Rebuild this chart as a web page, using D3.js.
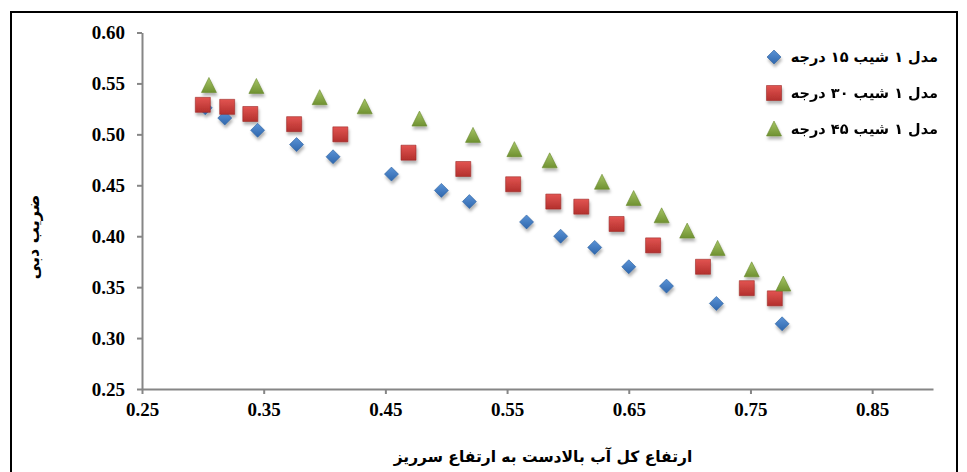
<!DOCTYPE html>
<html>
<head>
<meta charset="utf-8">
<script src="https://cdn.jsdelivr.net/npm/d3@7"></script>
<style>
  body { margin: 0; background: #fff; }
  svg { display: block; }
  .tick text { font-family: "Liberation Serif", "Times New Roman", serif; font-weight: bold; font-size: 19px; fill: #000; }
  .fa { font-family: "DejaVu Sans", "Noto Sans", sans-serif; font-weight: bold; fill: #000; }
</style>
</head>
<body>
<div id="chart"></div>
<script>
var width = 967,
    height = 472;

// series: x = ratio of total upstream head to weir height, y = discharge coefficient
var names = ["مدل ۱ شیب ۱۵ درجه", "مدل ۱ شیب ۳۰ درجه", "مدل ۱ شیب ۴۵ درجه"];

var x15 = [0.302, 0.318, 0.345, 0.377, 0.407, 0.455, 0.496, 0.519, 0.566, 0.594, 0.622, 0.650, 0.681, 0.722, 0.776];
var y15 = [0.526, 0.516, 0.504, 0.490, 0.478, 0.461, 0.445, 0.434, 0.414, 0.400, 0.389, 0.370, 0.351, 0.334, 0.314];

var x30 = [0.300, 0.320, 0.339, 0.375, 0.413, 0.469, 0.514, 0.555, 0.588, 0.611, 0.640, 0.670, 0.711, 0.747, 0.770];
var y30 = [0.529, 0.527, 0.520, 0.510, 0.500, 0.482, 0.466, 0.451, 0.434, 0.429, 0.412, 0.391, 0.370, 0.349, 0.339];

var x45 = [0.305, 0.344, 0.396, 0.433, 0.478, 0.522, 0.556, 0.585, 0.628, 0.654, 0.677, 0.698, 0.723, 0.751, 0.777];
var y45 = [0.548, 0.547, 0.536, 0.527, 0.515, 0.499, 0.485, 0.474, 0.453, 0.437, 0.420, 0.405, 0.388, 0.367, 0.353];

var xTicks = [0.25, 0.35, 0.45, 0.55, 0.65, 0.75, 0.85];
var yTicks = [0.25, 0.30, 0.35, 0.40, 0.45, 0.50, 0.55, 0.60];

var xTitle = "ارتفاع کل آب بالادست به ارتفاع سرریز";
var yTitle = "ضریب دبی";

var svg = d3.select("#chart").append("svg")
    .attr("width", width)
    .attr("height", height);

var defs = svg.append("defs");

var shadow = defs.append("filter").attr("id", "shadow")
    .attr("x", "-50%").attr("y", "-50%").attr("width", "200%").attr("height", "200%");
shadow.append("feDropShadow")
    .attr("dx", 1).attr("dy", 3).attr("stdDeviation", 1.5)
    .attr("flood-color", "#000").attr("flood-opacity", 0.3);

function grad(id, c1, c2) {
    var g = defs.append("linearGradient").attr("id", id)
        .attr("x1", "0").attr("y1", "0").attr("x2", "0").attr("y2", "1");
    g.append("stop").attr("offset", "0%").attr("stop-color", c1);
    g.append("stop").attr("offset", "100%").attr("stop-color", c2);
}
grad("gBlue", "#5b93d6", "#2f67ad");
grad("gRed", "#e25451", "#b3302d");
grad("gGreen", "#a6c566", "#6f9131");

// outer frame
svg.append("rect")
    .attr("x", 11).attr("y", 12)
    .attr("width", 946).attr("height", 470)
    .attr("fill", "none").attr("stroke", "#000").attr("stroke-width", 2);

var x = d3.scaleLinear().domain([0.25, 0.90]).range([142, 933]);
var y = d3.scaleLinear().domain([0.25, 0.60]).range([389, 32.5]);

var xAxis = svg.append("g")
    .attr("transform", "translate(0," + y(0.25) + ")")
    .call(d3.axisBottom(x).tickValues(xTicks).tickFormat(d3.format(".2f")).tickSize(5).tickSizeOuter(0).tickPadding(9));

var yAxis = svg.append("g")
    .attr("transform", "translate(" + x(0.25) + ",0)")
    .call(d3.axisLeft(y).tickValues(yTicks).tickFormat(d3.format(".2f")).tickSize(5).tickSizeOuter(0).tickPadding(12));

svg.selectAll(".domain, .tick line")
    .attr("stroke", "#868686")
    .attr("stroke-width", 2);

// marker shapes
var diamond = "M0,-7L7,0L0,7L-7,0Z";
var square = "M-7.5,-7.5H7.5V7.5H-7.5Z";
var triangle = "M0,-8L7.5,7H-7.5Z";

var series = [
    { name: names[0], xs: x15, ys: y15, path: diamond, fill: "url(#gBlue)", stroke: "#2c5f9e" },
    { name: names[1], xs: x30, ys: y30, path: square, fill: "url(#gRed)", stroke: "#9c2a28" },
    { name: names[2], xs: x45, ys: y45, path: triangle, fill: "url(#gGreen)", stroke: "#6a8a2f" }
];

var markGroup = svg.append("g").attr("filter", "url(#shadow)");

series.forEach(function(s) {
    var pts = s.xs.map(function(v, i) { return [v, s.ys[i]]; });
    markGroup.append("g").selectAll("path")
        .data(pts)
        .enter()
        .append("path")
        .attr("d", s.path)
        .attr("transform", function(d) { return "translate(" + x(d[0]) + "," + y(d[1]) + ")"; })
        .attr("fill", s.fill)
        .attr("stroke", s.stroke)
        .attr("stroke-width", 0.6);
});

// legend
var legend = svg.append("g").attr("transform", "translate(774,57)");
var rows = legend.selectAll("g")
    .data(series)
    .enter()
    .append("g")
    .attr("transform", function(d, i) { return "translate(0," + (i * 36) + ")"; });

rows.append("path")
    .attr("d", function(d) { return d.path; })
    .attr("fill", function(d) { return d.fill; })
    .attr("stroke", function(d) { return d.stroke; })
    .attr("stroke-width", 0.6)
    .attr("filter", "url(#shadow)");

rows.append("text")
    .attr("class", "fa")
    .attr("x", 164)
    .attr("dy", "0.35em")
    .attr("text-anchor", "start")
    .attr("direction", "rtl")
    .style("font-size", "14.5px")
    .text(function(d) { return d.name; });

// axis titles
svg.append("text")
    .attr("class", "fa")
    .attr("x", 543)
    .attr("y", 457)
    .attr("dy", "0.35em")
    .attr("text-anchor", "middle")
    .style("font-size", "15.5px")
    .text(xTitle);

svg.append("text")
    .attr("class", "fa")
    .attr("transform", "translate(33,237) rotate(-90)")
    .attr("dy", "0.35em")
    .attr("text-anchor", "middle")
    .style("font-size", "16px")
    .text(yTitle);
</script>
</body>
</html>
